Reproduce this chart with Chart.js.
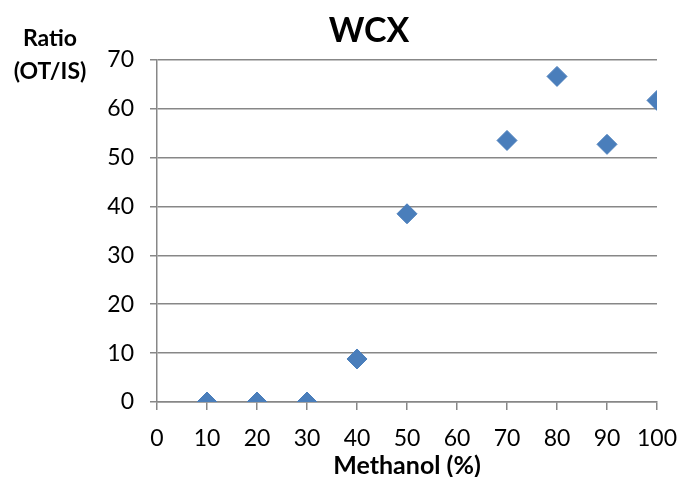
<!DOCTYPE html>
<html>
<head>
<meta charset="utf-8">
<script src="https://cdn.jsdelivr.net/npm/chart.js@4/dist/chart.umd.min.js"></script>
<style>
  html, body { margin: 0; padding: 0; background: #fff; }
  #wrap { width: 681px; height: 477px; }
</style>
</head>
<body>
<div id="wrap"><canvas id="wcxChart"></canvas></div>
<script>
// -------------------------
// Data
// -------------------------
const methanolPct = [10, 20, 30, 40, 50, 70, 80, 90, 100];
const ratioValues = [0, 0, 0, 8.8, 38.5, 53.5, 66.6, 52.7, 61.7];
const xTicks = [0, 10, 20, 30, 40, 50, 60, 70, 80, 90, 100];
const yTicks = [0, 10, 20, 30, 40, 50, 60, 70];

const FONT = "Lato, 'Open Sans', sans-serif";
const GRID = '#878787';
const MARKER = '#4A7EBB';

// axis titles: y title sits above the tick labels on two lines,
// x title is centred under the plot area
const axisTitlePlugin = {
    id: 'axisTitles',
    afterDraw(chart) {
        const ctx = chart.ctx;
        const area = chart.chartArea;
        ctx.save();
        ctx.fillStyle = '#000';
        ctx.textAlign = 'center';
        ctx.textBaseline = 'middle';
        ctx.font = 'bold 23px ' + FONT;
        ctx.fillText('Ratio', 50, 39);
        ctx.fillText('(OT/IS)', 50, 72);
        ctx.font = 'bold 25px ' + FONT;
        ctx.fillText('Methanol (%)', (area.left + area.right) / 2, 466);
        ctx.restore();
    }
};

const ctx = document.getElementById('wcxChart').getContext('2d');
const wcxChart = new Chart(ctx, {
    type: 'scatter',
    data: {
        datasets: [{
            label: 'WCX',
            data: methanolPct.map((x, i) => ({ x: x, y: ratioValues[i] })),
            pointStyle: 'rectRot',
            pointRadius: 10,
            pointHoverRadius: 10,
            backgroundColor: MARKER,
            borderColor: MARKER,
            borderWidth: 1
        }]
    },
    options: {
        responsive: true,
        maintainAspectRatio: false,
        animation: false,
        layout: { padding: { left: 81, right: 24, top: 0, bottom: 0 } },
        plugins: {
            legend: { display: false },
            tooltip: { enabled: false },
            title: {
                display: true,
                text: 'WCX',
                color: '#000',
                font: { family: FONT, size: 34, weight: 'bold', lineHeight: 1.2 },
                padding: { top: 11, bottom: 8 }
            }
        },
        scales: {
            x: {
                type: 'linear',
                min: 0,
                max: 100,
                afterBuildTicks: (scale) => { scale.ticks = xTicks.map(v => ({ value: v })); },
                afterFit: (scale) => {
                    scale.height = 476 - 401;
                    scale.paddingLeft = 0;
                    scale.paddingRight = 0;
                },
                ticks: {
                    color: '#000',
                    font: { family: FONT, size: 23 },
                    padding: 15,
                    maxRotation: 0
                },
                grid: { drawOnChartArea: false, drawTicks: true, tickLength: 8, color: GRID, lineWidth: 1.5 },
                border: { display: true, color: GRID, width: 1.5 }
            },
            y: {
                type: 'linear',
                min: 0,
                max: 70,
                afterBuildTicks: (scale) => { scale.ticks = yTicks.map(v => ({ value: v })); },
                afterFit: (scale) => {
                    scale.width = 157 - 81;
                    scale.paddingTop = 0;
                    scale.paddingBottom = 0;
                },
                ticks: {
                    color: '#000',
                    font: { family: FONT, size: 23 },
                    padding: 16
                },
                grid: { color: GRID, lineWidth: 1.5, tickLength: 7 },
                border: { display: true, color: GRID, width: 1.5 }
            }
        }
    },
    plugins: [axisTitlePlugin]
});
</script>
</body>
</html>
